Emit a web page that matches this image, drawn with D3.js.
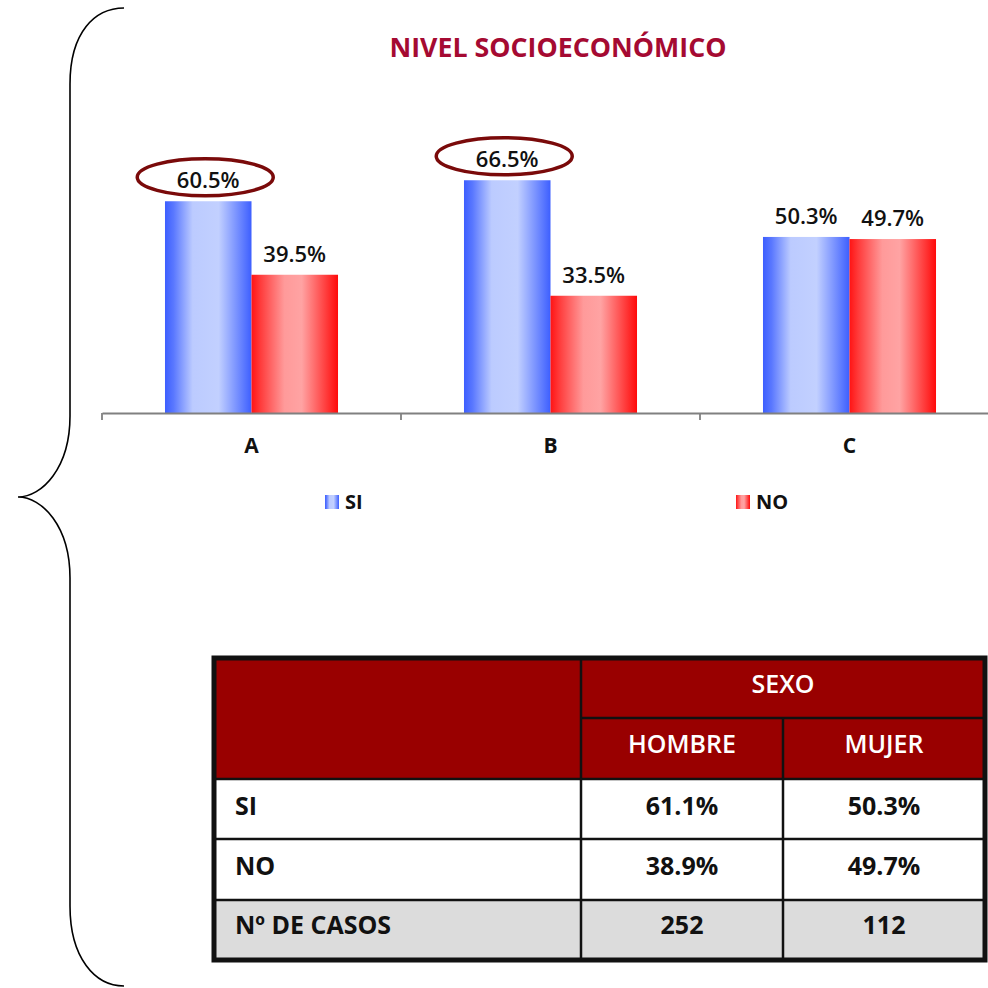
<!DOCTYPE html>
<html><head><meta charset="utf-8">
<script src="https://cdn.jsdelivr.net/npm/d3@7"></script>
<style>html,body{margin:0;padding:0;background:#fff}svg{display:block}</style>
</head><body>
<script>
// ---- data ----
const categories = ["A", "B", "C"];
const seriesNames = ["SI", "NO"];
const siValues = [60.5, 66.5, 50.3];
const noValues = [39.5, 33.5, 49.7];
const highlighted = [true, true, false]; // SI labels circled
const chartTitle = "NIVEL SOCIOECONÓMICO";

const tableGroupHeader = "SEXO";
const tableColumns = ["HOMBRE", "MUJER"];
const tableRows = ["SI", "NO", "Nº DE CASOS"];
const tableValues = [["61.1%", "50.3%"], ["38.9%", "49.7%"], ["252", "112"]];

const W = 988, H = 988;
const FONT = "'Open Sans', 'DejaVu Sans', sans-serif";
const svg = d3.select("body").append("svg").attr("width", W).attr("height", H);

// gradients
const defs = svg.append("defs");
function grad(id, stops) {
  const g = defs.append("linearGradient").attr("id", id).attr("x1", "0").attr("x2", "1").attr("y1", "0").attr("y2", "0");
  stops.forEach(s => g.append("stop").attr("offset", s[0]).attr("stop-color", s[1]));
}
grad("gSI", [["0%", "#3c5eff"], ["10%", "#5a78ff"], ["32%", "#bccbff"], ["62%", "#c2d0ff"], ["100%", "#3d5fff"]]);
grad("gNO", [["0%", "#ff1414"], ["10%", "#ff3a3a"], ["38%", "#ff9a9a"], ["58%", "#ffa3a3"], ["100%", "#ff0a0a"]]);
const fills = { SI: "url(#gSI)", NO: "url(#gNO)" };

// brace
svg.append("path")
  .attr("d", "M124,8 C95,8 70,32 70,84 L70,416 C70,468 42,497 18,497 C42,497 70,526 70,578 L70,906 C70,958 95,986 124,986")
  .attr("fill", "none").attr("stroke", "#000").attr("stroke-width", 1.6);

// title
svg.append("text").attr("x", 558).attr("y", 57).attr("text-anchor", "middle")
  .attr("font-family", FONT).attr("font-weight", 700).attr("font-size", 26)
  .attr("fill", "#a50a32").attr("textLength", 337).attr("lengthAdjust", "spacingAndGlyphs")
  .text(chartTitle);

// scales
const baseY = 413;
const x0 = d3.scaleBand().domain(categories).range([102, 999]).paddingInner(0).paddingOuter(0);
const x1 = d3.scaleBand().domain(seriesNames).range([0, x0.bandwidth()]).paddingInner(0).paddingOuter(0.728);
const y = d3.scaleLinear().domain([0, 100]).range([baseY, 63]);

const rows = categories.map((c, i) => ({ cat: c, SI: siValues[i], NO: noValues[i], hl: highlighted[i] }));

const groups = svg.append("g").selectAll("g").data(rows).join("g")
  .attr("transform", d => `translate(${x0(d.cat)},0)`);

groups.selectAll("rect").data(d => seriesNames.map(s => ({ s, v: d[s] }))).join("rect")
  .attr("x", d => x1(d.s)).attr("width", x1.bandwidth())
  .attr("y", d => y(d.v)).attr("height", d => baseY - y(d.v))
  .attr("fill", d => fills[d.s]);

groups.selectAll("text.val").data(d => seriesNames.map(s => ({ s, v: d[s] }))).join("text")
  .attr("class", "val")
  .attr("x", d => x1(d.s) + x1.bandwidth() / 2).attr("y", d => y(d.v) - 13)
  .attr("text-anchor", "middle").attr("font-family", FONT).attr("font-weight", 600)
  .attr("font-size", 22).attr("fill", "#111")
  .text(d => d3.format(".1f")(d.v) + "%");

groups.filter(d => d.hl).append("ellipse")
  .attr("cx", d => x1("SI") + x1.bandwidth() / 2 - 3)
  .attr("cy", d => y(d.SI) - 24)
  .attr("rx", 68).attr("ry", 18.5)
  .attr("fill", "none").attr("stroke", "#7a0a0a").attr("stroke-width", 3.5);

// axis
const axis = svg.append("g").attr("transform", `translate(0,${baseY})`)
  .call(d3.axisBottom(x0).tickSize(0).tickPadding(0).tickFormat(""));
axis.select(".domain").attr("stroke", "#808080").attr("stroke-width", 1.8);
axis.selectAll(".tick").remove();
const tickXs = categories.map(c => x0(c));
axis.selectAll("line.sep").data(tickXs).join("line").attr("class", "sep")
  .attr("x1", d => d).attr("x2", d => d).attr("y1", 0).attr("y2", 7)
  .attr("stroke", "#808080").attr("stroke-width", 1.8);
svg.append("g").selectAll("text").data(categories).join("text")
  .attr("x", d => x0(d) + x0.bandwidth() / 2).attr("y", 453)
  .attr("text-anchor", "middle").attr("font-family", FONT).attr("font-weight", 700)
  .attr("font-size", 21).attr("fill", "#111").text(d => d);

// legend
const legendX = { SI: 325, NO: 736 };
const lg = svg.append("g").selectAll("g").data(seriesNames).join("g")
  .attr("transform", d => `translate(${legendX[d]},495)`);
lg.append("rect").attr("width", 14).attr("height", 14).attr("fill", d => fills[d]);
lg.append("text").attr("x", 20).attr("y", 14).attr("font-family", FONT).attr("font-weight", 700)
  .attr("font-size", 20).attr("fill", "#111").text(d => d);

// table
const tX = [214, 581, 783, 985];
const tY = [658, 718, 779, 839, 900, 960];
const tg = svg.append("g");
tg.append("rect").attr("x", tX[0]).attr("y", tY[0]).attr("width", tX[3] - tX[0]).attr("height", tY[2] - tY[0]).attr("fill", "#990000");
tg.append("rect").attr("x", tX[0]).attr("y", tY[4]).attr("width", tX[3] - tX[0]).attr("height", tY[5] - tY[4]).attr("fill", "#dcdcdc");
// inner lines
const ln = (x1_, y1_, x2_, y2_, w) => tg.append("line").attr("x1", x1_).attr("y1", y1_).attr("x2", x2_).attr("y2", y2_).attr("stroke", "#111").attr("stroke-width", w);
ln(tX[1], tY[1], tX[3], tY[1], 2.5);
[2, 3, 4].forEach(i => ln(tX[0], tY[i], tX[3], tY[i], 2.5));
ln(tX[1], tY[0], tX[1], tY[5], 2.5);
ln(tX[2], tY[1], tX[2], tY[5], 2.5);
tg.append("rect").attr("x", tX[0]).attr("y", tY[0]).attr("width", tX[3] - tX[0]).attr("height", tY[5] - tY[0])
  .attr("fill", "none").attr("stroke", "#111").attr("stroke-width", 5);

const txt = (x, yy, s, anchor, fill, weight) => tg.append("text").attr("x", x).attr("y", yy).attr("text-anchor", anchor)
  .attr("font-family", FONT).attr("font-weight", weight).attr("font-size", 25).attr("fill", fill).text(s);
txt((tX[1] + tX[3]) / 2, 693, tableGroupHeader, "middle", "#fff", 600);
tableColumns.forEach((c, j) => txt((tX[j + 1] + tX[j + 2]) / 2, 753, c, "middle", "#fff", 600));
const rowBase = [815, 875, 934];
tableRows.forEach((r, i) => {
  txt(235, rowBase[i], r, "start", "#111", 700);
  tableValues[i].forEach((v, j) => txt((tX[j + 1] + tX[j + 2]) / 2, rowBase[i], v, "middle", "#111", 700));
});
</script>
</body></html>
